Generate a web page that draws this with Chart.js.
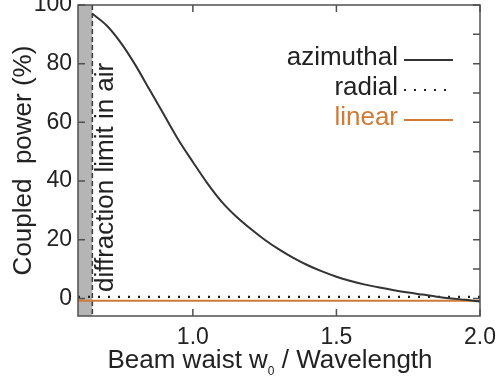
<!DOCTYPE html>
<html lang="en">

<head>
  <meta charset="UTF-8">
  <title>Coupled power vs beam waist</title>
  <script src="https://cdn.jsdelivr.net/npm/chart.js"></script>
  <style>
    html, body {
      margin: 0;
      padding: 0;
      background: #fff;
    }
  </style>
</head>

<body>
  <canvas id="powerChart" width="503" height="381"></canvas>
  <script>
    // azimuthal mode: beam waist (in wavelengths) -> coupled power (%)
    const azimuthalWaist = [0.65, 0.70, 0.75, 0.80, 0.85, 0.90, 0.95, 1.00, 1.05, 1.10, 1.15, 1.20, 1.25, 1.30, 1.35, 1.40,
      1.45, 1.50, 1.55, 1.60, 1.65, 1.70, 1.75, 1.80, 1.85, 1.90, 1.95, 2.00];
    const azimuthalPower = [97, 93, 87, 79.5, 71, 62.5, 54, 46.5, 39.3, 33, 28, 23.8, 20, 16.7, 13.8, 11.3,
      9.2, 7.4, 5.9, 4.7, 3.7, 2.8, 2.0, 1.3, 0.6, 0.0, -0.5, -1.1];

    // radial and linear stay flat near zero
    const flatWaist = [0.6, 2.0];
    const radialPower = [0.5, 0.5];
    const linearPower = [-0.8, -0.8];

    const diffractionLimit = 0.65; // w0 / wavelength
    const xTicks = [1.0, 1.5, 2.0];
    const yTicks = [0, 20, 40, 60, 80, 100];
    const yRightTicks = [0, 10, 20, 30, 40, 50, 60, 70, 80, 90, 100];

    const FONT = '"Liberation Sans", Arial, sans-serif';
    const INK = '#222222';
    const ORANGE = '#d07a36';

    function toPoints(xs, ys) {
      return xs.map((x, i) => ({ x: x, y: ys[i] }));
    }

    // shaded region, frame with inward ticks, annotation, legend, x title
    const decorations = {
      id: 'decorations',
      beforeDatasetsDraw(chart) {
        const { ctx, chartArea: a, scales: { x } } = chart;
        const xl = x.getPixelForValue(diffractionLimit);
        ctx.save();
        ctx.fillStyle = '#b5b5b5';
        ctx.fillRect(a.left, a.top, xl - a.left, a.bottom - a.top);
        ctx.strokeStyle = '#3a3a3a';
        ctx.lineWidth = 1.5;
        ctx.setLineDash([5, 3]);
        ctx.beginPath();
        ctx.moveTo(xl, a.top);
        ctx.lineTo(xl, a.bottom);
        ctx.stroke();
        ctx.restore();
      },
      afterDraw(chart) {
        const { ctx, chartArea: a, scales: { x, y } } = chart;
        const tick = 7;
        ctx.save();

        // frame
        ctx.strokeStyle = '#505050';
        ctx.lineWidth = 1.5;
        ctx.strokeRect(a.left, a.top, a.right - a.left, a.bottom - a.top);

        // inward ticks
        ctx.beginPath();
        xTicks.forEach(v => {
          const px = x.getPixelForValue(v);
          ctx.moveTo(px, a.bottom); ctx.lineTo(px, a.bottom - tick);
          ctx.moveTo(px, a.top); ctx.lineTo(px, a.top + tick);
        });
        yTicks.forEach(v => {
          const py = y.getPixelForValue(v);
          ctx.moveTo(a.left, py); ctx.lineTo(a.left + tick, py);
        });
        yRightTicks.forEach(v => {
          const py = y.getPixelForValue(v);
          ctx.moveTo(a.right, py); ctx.lineTo(a.right - tick, py);
        });
        ctx.stroke();

        // rotated note next to the dashed line
        const xl = x.getPixelForValue(diffractionLimit);
        ctx.save();
        ctx.translate(xl + 21, a.bottom - 24);
        ctx.rotate(-Math.PI / 2);
        ctx.fillStyle = INK;
        ctx.font = `26px ${FONT}`;
        ctx.textAlign = 'left';
        ctx.textBaseline = 'alphabetic';
        ctx.fillText('diffraction limit in air', 0, 0);
        ctx.restore();

        // legend: label text on the left, line sample on the right
        const textRight = a.left + 320;
        const lineStart = textRight + 6;
        const lineEnd = textRight + 55;
        chart.data.datasets.forEach((ds, i) => {
          const ly = a.top + 55 + i * 30;
          ctx.font = `26px ${FONT}`;
          ctx.textAlign = 'right';
          ctx.textBaseline = 'alphabetic';
          ctx.fillStyle = ds.labelColor;
          ctx.fillText(ds.label, textRight, ly + 4.5);
          ctx.strokeStyle = ds.borderColor;
          ctx.lineWidth = ds.borderWidth;
          ctx.setLineDash(ds.borderDash || []);
          ctx.beginPath();
          ctx.moveTo(lineStart, ly);
          ctx.lineTo(lineEnd, ly);
          ctx.stroke();
        });
        ctx.setLineDash([]);

        // x axis title with subscript
        const partA = 'Beam waist w';
        const sub = '0';
        const partB = ' / Wavelength';
        ctx.textAlign = 'left';
        ctx.fillStyle = INK;
        ctx.font = `26px ${FONT}`;
        const wA = ctx.measureText(partA).width;
        const wB = ctx.measureText(partB).width;
        ctx.font = `12px ${FONT}`;
        const wS = ctx.measureText(sub).width;
        let sx = (a.left + a.right) / 2 - 9 - (wA + wS + wB) / 2;
        const base = a.bottom + 52;
        ctx.font = `26px ${FONT}`;
        ctx.fillText(partA, sx, base);
        sx += wA;
        ctx.font = `12px ${FONT}`;
        ctx.fillText(sub, sx, base + 7);
        sx += wS;
        ctx.font = `26px ${FONT}`;
        ctx.fillText(partB, sx, base);

        ctx.restore();
      }
    };

    const ctx = document.getElementById('powerChart').getContext('2d');

    new Chart(ctx, {
      type: 'line',
      data: {
        datasets: [{
          label: 'azimuthal',
          data: toPoints(azimuthalWaist, azimuthalPower),
          borderColor: '#333333',
          labelColor: INK,
          borderWidth: 2,
          pointRadius: 0,
          cubicInterpolationMode: 'monotone',
        }, {
          label: 'radial',
          data: toPoints(flatWaist, radialPower),
          borderColor: '#222222',
          labelColor: INK,
          borderWidth: 2.2,
          borderDash: [2, 8],
          pointRadius: 0,
        }, {
          label: 'linear',
          data: toPoints(flatWaist, linearPower),
          borderColor: ORANGE,
          labelColor: ORANGE,
          borderWidth: 1.8,
          pointRadius: 0,
        }]
      },
      options: {
        responsive: false,
        animation: false,
        layout: { padding: { top: 5, right: 23, left: 0, bottom: 0 } },
        plugins: {
          legend: { display: false },
          tooltip: { enabled: false },
        },
        scales: {
          x: {
            type: 'linear',
            min: 0.6,
            max: 2.0,
            grid: { display: false, drawTicks: false },
            border: { display: false },
            afterBuildTicks: s => { s.ticks = xTicks.map(v => ({ value: v })); },
            afterFit: s => { s.height = 65; s.paddingLeft = 0; s.paddingRight = 0; },
            ticks: {
              padding: 8,
              color: INK,
              maxRotation: 0,
              font: { family: FONT, size: 23 },
              callback: v => Number(v).toFixed(1),
            },
          },
          y: {
            min: -6,
            max: 100,
            grid: { display: false, drawTicks: false },
            border: { display: false },
            afterBuildTicks: s => { s.ticks = yTicks.map(v => ({ value: v })); },
            afterFit: s => { s.width = 78; s.paddingTop = 0; s.paddingBottom = 0; },
            ticks: {
              padding: 6,
              color: INK,
              font: { family: FONT, size: 23 },
            },
            title: {
              display: true,
              text: 'Coupled  power (%)',
              color: INK,
              font: { family: FONT, size: 26 },
              padding: { top: 8, bottom: 0 },
            },
          },
        },
      },
      plugins: [decorations],
    });
  </script>
</body>

</html>
